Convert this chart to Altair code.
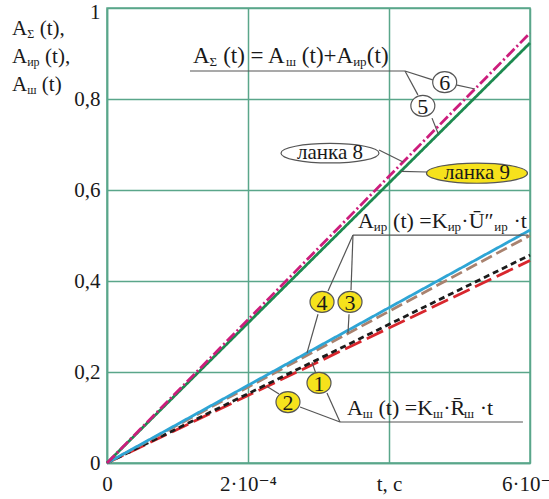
import altair as alt
import pandas as pd

# ---- plot frame -------------------------------------------------------
T_MAX = 6e-4
A_MAX = 1.0
PLOT_W, PLOT_H = 423, 455
T_PER_PX = T_MAX / PLOT_W
A_PER_PX = A_MAX / PLOT_H

TEAL = "#5aa68a"
INK = "#1a1a1a"
LEAD = "#555555"
YELLOW = "#f6e21c"
SERIF = "'Liberation Serif', 'Times New Roman', 'DejaVu Serif', serif"

# ---- curves: straight lines from the origin, value at t = 6·10⁻⁴ s ----
curve_ids = ["2", "1", "3", "4", "5", "6"]
curve_end = [0.445, 0.457, 0.500, 0.512, 0.923, 0.945]
curve_colors = ["#d8262d", "#1c1c1c", "#a9826f", "#2ea5d5", "#1d8a50", "#cc1d7c"]
curve_dash = [[18, 6], [6, 4], [12, 5], [1, 0], [1, 0], [11, 3, 2, 3]]
t_span = [0.0, T_MAX]

x_ticks = [0.0, 2e-4, 4e-4, 6e-4]
y_ticks = [0.0, 0.2, 0.4, 0.6, 0.8, 1.0]

# ---- numbered markers -------------------------------------------------
num_text = ["6", "5", "4", "3", "1", "2"]
num_t = [4.79e-4, 4.48e-4, 3.05e-4, 3.447e-4, 3.007e-4, 2.567e-4]
num_A = [0.837, 0.785, 0.354, 0.354, 0.176, 0.134]
num_fill = ["white", "white", YELLOW, YELLOW, YELLOW, YELLOW]

# ---- link tags ---------------------------------------------------------
tag_text = ["ланка 8", "ланка 9"]
tag_t = [3.163e-4, 5.248e-4]
tag_A = [0.681, 0.637]
tag_fill = ["white", YELLOW]
tag_size = [98 ** 2, 101 ** 2]

# ---- leader lines and underlines (t1, A1, t2, A2) ----------------------
leaders = [
    (1.177e-4, 0.8615, 4.227e-4, 0.8615),
    (4.227e-4, 0.8615, 4.62e-4, 0.842),
    (4.95e-4, 0.831, 5.22e-4, 0.822),
    (4.227e-4, 0.8615, 4.41e-4, 0.809),
    (4.61e-4, 0.758, 4.70e-4, 0.723),
    (3.858e-4, 0.688, 4.20e-4, 0.6615),
    (4.17e-4, 0.641, 4.539e-4, 0.6396),
    (3.489e-4, 0.501, 5.972e-4, 0.501),
    (3.489e-4, 0.501, 3.135e-4, 0.378),
    (2.993e-4, 0.327, 2.837e-4, 0.242),
    (3.489e-4, 0.501, 3.461e-4, 0.380),
    (3.433e-4, 0.327, 3.418e-4, 0.285),
    (3.305e-4, 0.0901, 5.90e-4, 0.0901),
    (3.305e-4, 0.0901, 3.12e-4, 0.154),
    (2.96e-4, 0.198, 2.908e-4, 0.2215),
    (3.305e-4, 0.0901, 2.738e-4, 0.123),
    (2.44e-4, 0.1516, 2.27e-4, 0.168),
]

# ---- formulas with subscripts: (t, A baseline, font size, parts) -------
formulas = [
    (-1.347e-4, 0.9407, 21, [("A", 0), ("Σ", 1), (" (t),", 0)]),
    (-1.347e-4, 0.8790, 21, [("A", 0), ("ир", 1), (" (t),", 0)]),
    (-1.347e-4, 0.8176, 21, [("A", 0), ("ш", 1), (" (t)", 0)]),
    (1.22e-4, 0.879, 23, [("A", 0), ("Σ", 1), (" (t) = A", 0), ("ш", 1),
                          (" (t)+A", 0), ("ир", 1), ("(t)", 0)]),
    (3.56e-4, 0.5165, 22, [("A", 0), ("ир", 1), (" (t) =K", 0), ("ир", 1),
                           ("·Ū″", 0), ("ир", 1), (" ·t", 0)]),
    (3.404e-4, 0.1055, 22, [("A", 0), ("ш", 1), (" (t) =K", 0), ("ш", 1),
                            ("·R̄", 0), ("ш", 1), (" ·t", 0)]),
]

# Advance widths of the serif face (per 1000 em) used to lay out the runs
GLYPH_W = {" ": 250, "(": 333, ")": 333, ",": 250, "=": 564, "+": 564,
           "·": 250, "t": 278, "A": 722, "K": 722, "R": 700, "Ū": 722,
           "″": 520, "Σ": 600, "ш": 780, "и": 545, "р": 510, "\u0304": 0}


def run_width(s, fs):
    return sum(GLYPH_W.get(c, 500) for c in s) * fs / 1000.0


rows = []
for t0, a0, fs, parts in formulas:
    x = 0.0
    for txt, sub in parts:
        size = round(fs * 0.57) if sub else fs
        lead = len(txt) - len(txt.lstrip(" "))
        x_draw = x + run_width(" " * lead, size)
        rows.append({
            "t": t0 + x_draw * T_PER_PX,
            "A": a0 - (3 if sub else 0) * A_PER_PX,
            "txt": txt.strip(" "),
            "fs": size,
        })
        x += run_width(txt, size)
rich_df = pd.DataFrame(rows)

# ---- base chart with axes and grid --------------------------------------
x_enc = alt.X(
    "t:Q",
    scale=alt.Scale(domain=[0, T_MAX], nice=False, zero=False),
    axis=alt.Axis(
        values=x_ticks, title=None, grid=True, gridColor=TEAL, gridWidth=1.5,
        ticks=False, domainColor=TEAL, domainWidth=1.5,
        labelFont=SERIF, labelFontSize=21, labelColor=INK, labelPadding=10,
        labelOverlap=False, labelFlush=False,
        labelExpr="datum.value == 0 ? '0' : datum.value < 3e-4 ? '2·10⁻⁴' : "
                  "datum.value < 5e-4 ? 't, c' : '6·10⁻⁴'",
    ),
)
y_enc = alt.Y(
    "A:Q",
    scale=alt.Scale(domain=[0, A_MAX], nice=False, zero=False),
    axis=alt.Axis(
        values=y_ticks, title=None, grid=True, gridColor=TEAL, gridWidth=1.5,
        ticks=False, domainColor=TEAL, domainWidth=1.5,
        labelFont=SERIF, labelFontSize=21, labelColor=INK, labelPadding=7,
        labelOverlap=False, labelFlush=False,
        labelOffset={"condition": {"test": "datum.value == 1", "value": 4},
                     "value": 0},
        labelExpr="datum.value == 0 ? '0' : datum.value == 1 ? '1' : "
                  "replace(format(datum.value, '.1f'), '.', ',')",
    ),
)

layers = []
for cid, end, col, dash in zip(curve_ids, curve_end, curve_colors, curve_dash):
    df = pd.DataFrame({"t": t_span, "A": [0.0, end]})
    layers.append(
        alt.Chart(df).mark_line(color=col, strokeWidth=2.8, strokeDash=dash)
        .encode(x=x_enc, y=y_enc)
    )

lead_df = pd.DataFrame(leaders, columns=["t", "A", "t2", "A2"])
layers.append(
    alt.Chart(lead_df).mark_rule(color=LEAD, strokeWidth=1.2)
    .encode(x="t:Q", y="A:Q", x2="t2:Q", y2="A2:Q")
)

ELLIPSE_SMALL = "M-1,0A1,0.875 0 1,0 1,0A1,0.875 0 1,0 -1,0Z"
ELLIPSE_WIDE = "M-1,0A1,0.2 0 1,0 1,0A1,0.2 0 1,0 -1,0Z"

num_df = pd.DataFrame({"t": num_t, "A": num_A, "txt": num_text, "fill": num_fill})
layers.append(
    alt.Chart(num_df).mark_point(shape=ELLIPSE_SMALL, size=576, filled=True,
                                 opacity=1, stroke=LEAD, strokeWidth=1.2)
    .encode(x="t:Q", y="A:Q", fill=alt.Fill("fill:N", scale=None))
)
layers.append(
    alt.Chart(num_df).mark_text(font=SERIF, fontSize=22, color=INK,
                                baseline="middle", dy=1)
    .encode(x="t:Q", y="A:Q", text="txt:N")
)

tag_df = pd.DataFrame({"t": tag_t, "A": tag_A, "txt": tag_text,
                       "fill": tag_fill, "sz": tag_size})
layers.append(
    alt.Chart(tag_df).mark_point(shape=ELLIPSE_WIDE, filled=True, opacity=1,
                                 stroke=LEAD, strokeWidth=1.2)
    .encode(x="t:Q", y="A:Q", fill=alt.Fill("fill:N", scale=None),
            size=alt.Size("sz:Q", scale=None))
)
layers.append(
    alt.Chart(tag_df).mark_text(font=SERIF, fontSize=21, color=INK,
                                baseline="middle", dy=0)
    .encode(x="t:Q", y="A:Q", text="txt:N")
)

layers.append(
    alt.Chart(rich_df).mark_text(font=SERIF, color=INK, align="left",
                                 baseline="alphabetic")
    .encode(x="t:Q", y="A:Q", text="txt:N", size=alt.Size("fs:Q", scale=None))
)

chart = (
    alt.layer(*layers)
    .properties(
        width=PLOT_W, height=PLOT_H,
        autosize="none",
        padding={"left": 107, "top": 8, "right": 19, "bottom": 36},
        background="white",
    )
    .configure_view(stroke=TEAL, strokeWidth=1.5)
)

chart.save("out.html", embed_options={"renderer": "svg", "actions": False})
